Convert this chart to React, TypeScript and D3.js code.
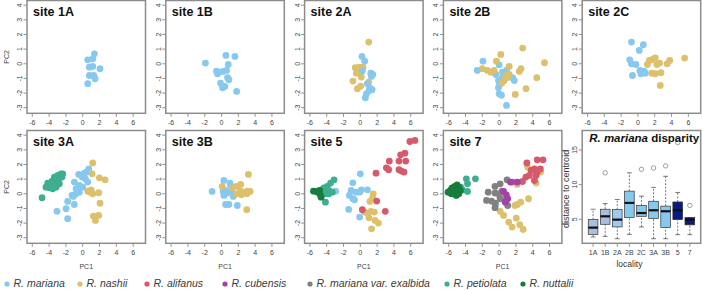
import React, { useEffect, useRef } from "react"
import * as d3 from "d3"

type Pt = [number, number]

const species = [
  "R. mariana",
  "R. nashii",
  "R. alifanus",
  "R. cubensis",
  "R. mariana var. exalbida",
  "R. petiolata",
  "R. nuttalii",
]
const speciesColors = ["#87c8ef", "#dcc06c", "#d6596c", "#a63fa8", "#808080", "#3fae90", "#177d3c"]

// PC1 / PC2 scores, one array per site and species
const s1A_mariana: Pt[] = [[1.39, 0.68], [0.6, 0.27], [1.19, 0.34], [0.79, -0.23], [1.19, -0.18], [2.06, -0.34], [0.79, -0.8], [1.31, -0.8], [1.47, -1.02], [0.6, -1.36]]

const s1B_mariana: Pt[] = [[-1.92, 0.05], [0.52, 0.57], [1.6, 0.5], [0.8, -0.05], [-0.6, -0.5], [-0.32, -0.57], [0.2, -0.52], [0.6, -0.45], [-0.48, -0.68], [0.72, -0.95], [0.88, -1.09], [-0.12, -1.32], [0.4, -1.55], [0.12, -1.64], [1.8, -1.89]]

const s2A_mariana: Pt[] = [[0.2, 0.5], [0.52, 0.18], [1.24, -0.64], [1.48, -0.73], [1.32, -0.86], [0.24, -0.5], [1.12, -1.64], [1.4, -1.77], [1.0, -1.86], [0.72, -2.05], [0.6, -2.32], [0.84, -1.36]]
const s2A_nashii: Pt[] = [[1.0, 1.48], [-0.6, -0.27], [-0.08, -0.23], [0.32, -0.23], [-0.48, -0.64], [-0.08, -0.57], [0.12, -0.91], [-0.88, -1.18], [-0.36, -1.7], [0.04, -1.52], [1.0, -1.25], [-0.28, -0.34]]

const s2B_mariana: Pt[] = [[-1.92, 0.18], [-2.6, -0.45], [0, -0.07], [-0.4, -0.73], [0.4, -0.57], [0.88, -0.45], [-0.08, -1.14], [0, -1.48], [-0.08, -1.64], [0, -2.05], [0.28, -2.14], [0.88, -2.84], [1.6, -0.95], [1.8, -1.14], [0.4, -0.91]]
const s2B_nashii: Pt[] = [[0.2, 0.64], [2.8, 1.07], [-0.32, 0.18], [1.2, -0.18], [-2.0, -0.34], [-1.4, -0.45], [-1.0, -0.57], [-0.6, -0.45], [0.8, -0.8], [1.2, -0.73], [0.6, -1.14], [1.0, -0.95], [2.4, -0.52], [2.6, -0.34], [4.48, -0.95], [5.4, 0.07], [3.2, -1.7], [1.92, -2.09], [0.32, -1.32]]

const s2C_mariana: Pt[] = [[-0.77, 1.48], [0.65, 1.3], [0.16, 0.91], [-0.97, 0.27], [-0.77, 0], [-0.24, -0.05], [0.24, -0.45], [0.44, -0.57], [0.73, -0.5], [0.89, -0.64], [0.36, -0.68], [-0.65, -0.8]]
const s2C_nashii: Pt[] = [[1.37, 0.23], [1.73, 0.3], [2.06, 0.41], [1.13, -0.05], [2.26, -0.05], [2.58, 0.05], [3.47, 0], [3.79, 0.23], [5.56, 0.39], [1.65, -0.64], [2.06, -0.68], [2.74, -0.61], [2.66, -1.48]]

const s3A_mariana: Pt[] = [[-3.06, -1.2], [-1.98, -1.02], [-1.79, -1.7], [-1.0, -0.73], [-1.79, -0.52], [-1.27, -0.11], [-0.79, 0], [-0.6, 0.27], [-0.4, 0.57], [-1.0, 0.8], [-0.48, 1.32], [0.2, 1.41], [0.32, 1.02], [0.6, 0.8], [0.71, 1.7], [-0.4, 0.11], [-0.79, 0.34], [0, 0.45], [0.48, 1.48], [-0.08, 1.14], [-1.11, -0.18]]
const s3A_nashii: Pt[] = [[1.19, 2.11], [1.11, 1.36], [1.98, 1.09], [2.66, 0.95], [0.6, 0.18], [1.0, 0.27], [0.87, 0.11], [1.19, 0], [1.9, 0.07], [2.06, -0.64], [1.9, -1.48], [1.27, -1.52], [1.51, -1.82]]
const s3A_petiolata: Pt[] = [[-4.84, -0.27], [-4.37, 0.45], [-3.97, 0.68], [-3.65, 0.86], [-3.37, 0.57], [-3.1, 0.8], [-2.86, 1.02], [-2.58, 1.36], [-2.46, 1.14], [-3.57, 0.34], [-3.97, 0.41], [-3.17, 0.45], [-2.78, 0.68], [-3.37, 1.14], [-2.98, 1.25], [-3.77, 0.68], [-4.17, 0.73], [-2.38, 1.36]]

const s3B_mariana: Pt[] = [[-1.12, 0.16], [0.28, 0.91], [1.0, 0.73], [1.08, 0.57], [0.2, 0.16], [0.68, 0.05], [1.16, 0.18], [0.48, 0.23], [1.56, 0], [0.28, -0.11], [0.48, -0.73], [0.88, -0.73], [1.88, -0.8], [1.4, -0.18]]
const s3B_nashii: Pt[] = [[3.2, 1.32], [2.28, 0.64], [1.8, 0.5], [1.28, 0.41], [0.08, 0.5], [3.08, 0.18], [3.4, 0.16], [2.68, 0.07], [2.36, -0.07], [3.0, 0], [3.0, -1.09], [1.8, 0], [2.28, 0.18]]

const s5_mariana: Pt[] = [[0, 1.36], [-0.89, 0.75], [-1.1, 0.23], [-0.49, 0.11], [-0.08, 0.11], [0.12, 0.27], [0.85, 0.27], [-1.3, -0.11], [-0.89, -0.34], [-0.69, -0.41], [-0.08, -1.59], [-1.38, -1.07], [-2.93, 0.18]]
const s5_nashii: Pt[] = [[1.54, 0], [1.14, -0.52], [1.46, -0.27], [0.85, -1.32], [1.26, -1.2], [1.67, -1.25], [1.02, -1.64], [1.75, -1.82], [2.15, -2.0], [1.34, -2.39], [0.53, -1.25]]
const s5_alifanus: Pt[] = [[5.9, 3.57], [6.5, 3.64], [4.8, 2.66], [5.3, 2.77], [4.6, 2.23], [5.4, 2.23], [3.45, 2.23], [3.1, 1.77], [3.37, 1.64], [4.6, 1.64], [4.9, 1.55], [5.2, 1.48], [1.87, 1.41], [1.95, -0.5], [0.24, -1.09], [2.97, -1.2]]
const s5_petiolata: Pt[] = [[-3.13, 0.95], [-3.54, 0.73], [-3.94, 0.5], [-4.35, 0.41], [-3.74, 0.23], [-3.33, 0.11], [-3.74, 0], [-4.15, 0], [-4.55, 0.27], [-4.15, -0.57]]
const s5_nuttalii: Pt[] = [[-5.57, 0.18], [-5.16, 0.16], [-4.84, 0.23], [-4.76, -0.07], [-4.67, -0.23], [-5.08, 0.11]]

const s7_mariana: Pt[] = [[-0.37, -0.73], [0.1, -0.2]]
const s7_nashii: Pt[] = [[4.94, 1.48], [3.4, 1.82], [4.4, 0.73], [2.16, 0.64], [3.5, -0.34], [2.57, -0.57], [2.16, -0.73], [1.88, -0.8], [0.12, -1.2], [0.53, -1.48], [1.14, -1.93], [2.04, -1.66], [1.55, -2.27], [2.45, -2.11], [2.86, -2.43]]
const s7_alifanus: Pt[] = [[3.3, 2.11], [4.2, 1.7], [4.53, 2.32], [5.22, 2.32], [3.8, 1.59], [3.6, 1.25], [4.9, 1.7], [4.53, 1.48], [4.4, 1.25], [3.18, 1.14], [2.78, 0.84], [1.55, 0.8], [4.2, 0.91]]
const s7_cubensis: Pt[] = [[1.35, 0.8], [2.16, 0.8], [0.86, -0.07], [1.02, -0.34], [0.73, -0.57], [0.53, 0.16]]
const s7_exalbida: Pt[] = [[-1.3, 0.11], [-1.5, -0.45], [-0.49, 0.5], [0.12, 0.68], [0.94, 0.95], [-0.49, 0.05], [-0.9, -0.5], [-0.49, -0.64], [0.12, -0.34], [-0.08, 0], [-0.49, -0.95], [1.02, -0.8], [0.73, -0.45], [0.33, 0.18]]
const s7_petiolata: Pt[] = [[-3.9, 1.02], [-3.76, 0.68], [-2.82, 1.02], [-3.76, 0.16], [-4.37, 0.27], [-4.57, 0.45]]
const s7_nuttalii: Pt[] = [[-6.08, 0.11], [-5.8, 0.23], [-5.6, 0.41], [-5.27, 0.5], [-5.0, 0.61], [-4.8, 0.45], [-5.4, 0], [-5.1, -0.11], [-4.8, 0], [-4.6, 0.23], [-5.7, 0], [-5.2, 0.27]]

// species index -> points, per site
const sites: { title: string; groups: [number, Pt[]][] }[] = [
  { title: "site 1A", groups: [[0, s1A_mariana]] },
  { title: "site 1B", groups: [[0, s1B_mariana]] },
  { title: "site 2A", groups: [[1, s2A_nashii], [0, s2A_mariana]] },
  { title: "site 2B", groups: [[0, s2B_mariana], [1, s2B_nashii]] },
  { title: "site 2C", groups: [[0, s2C_mariana], [1, s2C_nashii]] },
  { title: "site 3A", groups: [[0, s3A_mariana], [1, s3A_nashii], [5, s3A_petiolata]] },
  { title: "site 3B", groups: [[0, s3B_mariana], [1, s3B_nashii]] },
  { title: "site 5", groups: [[0, s5_mariana], [1, s5_nashii], [2, s5_alifanus], [5, s5_petiolata], [6, s5_nuttalii]] },
  { title: "site 7", groups: [[0, s7_mariana], [1, s7_nashii], [2, s7_alifanus], [4, s7_exalbida], [3, s7_cubensis], [5, s7_petiolata], [6, s7_nuttalii]] },
]

// R. mariana distance to centroid, per locality
const localities = ["1A", "1B", "2A", "2B", "2C", "3A", "3B", "5", "7"]
const whiskerLow = [2.45, 2.54, 2.2, 2.83, 3.9, 2.2, 2.2, 2.78, 2.78]
const q1 = [2.83, 4.28, 3.9, 5.24, 5.43, 5.1, 3.8, 4.95, 4.2]
const medians = [3.8, 5.43, 4.95, 7.36, 5.9, 6.3, 6.16, 6.3, 4.95]
const q3 = [4.95, 6.45, 6.4, 9.06, 7.0, 7.6, 6.9, 7.5, 5.24]
const whiskerHigh = [6.45, 7.27, 7.85, 11.7, 8.33, 9.6, 11.2, 8.87, 5.24]
const outliers = [[], [11.7], [], [], [12.2], [12.4], [12.7], [16.06], [7.0]]
const boxColors = ["#a9bfe0", "#a9bfe0", "#9dcaf0", "#87c8ef", "#87c8ef", "#87c8ef", "#87c8ef", "#0b1a80", "#0b1a80"]

const xTicks = [-6, -4, -2, 0, 2, 4, 6]
const yTicks = [-3, -2, -1, 0, 1, 2, 3, 4]
const distTicks = [5, 10, 15]

const legendX = [7, 80, 147, 225, 310, 447, 523]

const FONT = "'Liberation Sans', Arial, Helvetica, sans-serif"
const PW = 118.5
const PH = 112.8
const lefts = [27, 165.8, 304.6, 443.4, 582.2]
const tops = [0.5, 130.5]

const App = () => {
  const ref = useRef<SVGSVGElement>(null)

  useEffect(() => {
    const svg = d3.select(ref.current)
    svg.selectAll("*").remove()

    sites.forEach((site, i) => {
      const row = Math.floor(i / 5)
      const col = i % 5
      const L = lefts[col]
      const T = tops[row]
      const x = d3.scaleLinear().domain([-6.63, 7.47]).range([L, L + PW])
      const y = d3.scaleLinear().domain([-3.38, 4.32]).range([T + PH, T])
      const g = svg.append("g")

      site.groups.forEach(([sp, pts]) => {
        g.append("g")
          .selectAll("circle")
          .data(pts)
          .enter()
          .append("circle")
          .attr("cx", d => x(d[0]))
          .attr("cy", d => y(d[1]))
          .attr("r", 3.4)
          .attr("fill", speciesColors[sp])
      })

      // axes, R style
      g.selectAll(".xt")
        .data(xTicks)
        .enter()
        .append("line")
        .attr("x1", d => x(d))
        .attr("x2", d => x(d))
        .attr("y1", T + PH)
        .attr("y2", T + PH + 3.5)
        .attr("stroke", "#777")
        .attr("stroke-width", 0.8)
      g.selectAll(".xl")
        .data(xTicks)
        .enter()
        .append("text")
        .attr("x", d => x(d))
        .attr("y", T + PH + 12)
        .attr("text-anchor", "middle")
        .attr("font-size", 7)
        .attr("font-family", FONT)
        .attr("fill", "#444")
        .text(d => d)
      g.selectAll(".yt")
        .data(yTicks)
        .enter()
        .append("line")
        .attr("x1", L)
        .attr("x2", L - 3.5)
        .attr("y1", d => y(d))
        .attr("y2", d => y(d))
        .attr("stroke", "#777")
        .attr("stroke-width", 0.8)
      g.selectAll(".yl")
        .data(yTicks)
        .enter()
        .append("text")
        .attr("transform", d => `translate(${L - 5},${y(d)}) rotate(-90)`)
        .attr("text-anchor", "middle")
        .attr("font-size", 7)
        .attr("font-family", FONT)
        .attr("fill", "#444")
        .text(d => d)

      if (col === 0) {
        g.append("text")
          .attr("transform", `translate(${L - 18},${T + PH / 2}) rotate(-90)`)
          .attr("text-anchor", "middle")
          .attr("font-size", 7)
          .attr("font-family", FONT)
          .attr("fill", "#444")
          .text("PC2")
      }
      if (row === 1) {
        g.append("text")
          .attr("x", L + PW / 2)
          .attr("y", T + PH + 26)
          .attr("text-anchor", "middle")
          .attr("font-size", 7)
          .attr("font-family", FONT)
          .attr("fill", "#444")
          .text("PC1")
      }

      g.append("rect")
        .attr("x", L)
        .attr("y", T)
        .attr("width", PW)
        .attr("height", PH)
        .attr("fill", "none")
        .attr("stroke", "#8c8c8c")
        .attr("stroke-width", 1.5)

      g.append("text")
        .attr("x", L + 6)
        .attr("y", T + 15)
        .attr("font-size", 12.5)
        .attr("font-weight", "bold")
        .attr("font-family", FONT)
        .attr("fill", "#111")
        .text(site.title)
    })

    // boxplot of R. mariana disparity
    const L = lefts[4]
    const T = tops[1]
    const bx = d3.scalePoint().domain(localities).range([L, L + PW]).padding(0.9)
    const by = d3.scaleLinear().domain([1.54, 17.8]).range([T + PH, T])
    const bw = bx.step() * 0.8
    const bp = svg.append("g")

    localities.forEach((loc, i) => {
      const cx = bx(loc) as number
      bp.append("line")
        .attr("x1", cx).attr("x2", cx)
        .attr("y1", by(whiskerLow[i])).attr("y2", by(q1[i]))
        .attr("stroke", "#555").attr("stroke-width", 0.8)
        .attr("stroke-dasharray", "2,1.5")
      bp.append("line")
        .attr("x1", cx).attr("x2", cx)
        .attr("y1", by(q3[i])).attr("y2", by(whiskerHigh[i]))
        .attr("stroke", "#555").attr("stroke-width", 0.8)
        .attr("stroke-dasharray", "2,1.5")
      ;[whiskerLow[i], whiskerHigh[i]].forEach(v => {
        bp.append("line")
          .attr("x1", cx - bw / 4).attr("x2", cx + bw / 4)
          .attr("y1", by(v)).attr("y2", by(v))
          .attr("stroke", "#555").attr("stroke-width", 0.8)
      })
      bp.append("rect")
        .attr("x", cx - bw / 2)
        .attr("y", by(q3[i]))
        .attr("width", bw)
        .attr("height", by(q1[i]) - by(q3[i]))
        .attr("fill", boxColors[i])
        .attr("stroke", "#333")
        .attr("stroke-width", 0.7)
      bp.append("line")
        .attr("x1", cx - bw / 2).attr("x2", cx + bw / 2)
        .attr("y1", by(medians[i])).attr("y2", by(medians[i]))
        .attr("stroke", "#111").attr("stroke-width", 2.2)
      bp.selectAll(null)
        .data(outliers[i])
        .enter()
        .append("circle")
        .attr("cx", cx)
        .attr("cy", d => by(d))
        .attr("r", 2.2)
        .attr("fill", "none")
        .attr("stroke", "#777")
        .attr("stroke-width", 0.7)
    })

    bp.selectAll(".bt")
      .data(localities)
      .enter()
      .append("line")
      .attr("x1", d => bx(d) as number)
      .attr("x2", d => bx(d) as number)
      .attr("y1", T + PH)
      .attr("y2", T + PH + 3.5)
      .attr("stroke", "#777")
      .attr("stroke-width", 0.8)
    bp.selectAll(".bl")
      .data(localities)
      .enter()
      .append("text")
      .attr("x", d => bx(d) as number)
      .attr("y", T + PH + 12)
      .attr("text-anchor", "middle")
      .attr("font-size", 7)
      .attr("font-family", FONT)
      .attr("fill", "#444")
      .text(d => d)
    bp.selectAll(".dt")
      .data(distTicks)
      .enter()
      .append("line")
      .attr("x1", L)
      .attr("x2", L - 3.5)
      .attr("y1", d => by(d))
      .attr("y2", d => by(d))
      .attr("stroke", "#777")
      .attr("stroke-width", 0.8)
    bp.selectAll(".dl")
      .data(distTicks)
      .enter()
      .append("text")
      .attr("transform", d => `translate(${L - 5},${by(d)}) rotate(-90)`)
      .attr("text-anchor", "middle")
      .attr("font-size", 7)
      .attr("font-family", FONT)
      .attr("fill", "#444")
      .text(d => d)
    bp.append("text")
      .attr("transform", `translate(${L - 13.5},${T + PH / 2 + 2}) rotate(-90)`)
      .attr("text-anchor", "middle")
      .attr("font-size", 9)
      .attr("font-family", FONT)
      .attr("fill", "#333")
      .text("distance to centroid")
    bp.append("text")
      .attr("x", L + PW / 2 - 12)
      .attr("y", T + PH + 24)
      .attr("text-anchor", "middle")
      .attr("font-size", 8.5)
      .attr("font-family", FONT)
      .attr("fill", "#333")
      .text("locality")
    bp.append("rect")
      .attr("x", L)
      .attr("y", T)
      .attr("width", PW)
      .attr("height", PH)
      .attr("fill", "none")
      .attr("stroke", "#8c8c8c")
      .attr("stroke-width", 1.5)
    const title = bp.append("text")
      .attr("x", L + 7)
      .attr("y", T + 11)
      .attr("font-size", 11.5)
      .attr("font-weight", "bold")
      .attr("font-family", FONT)
      .attr("fill", "#111")
    title.append("tspan").attr("font-style", "italic").text("R. mariana")
    title.append("tspan").text(" disparity")

    // legend
    const lg = svg.append("g")
    species.forEach((name, i) => {
      lg.append("circle")
        .attr("cx", legendX[i])
        .attr("cy", 284)
        .attr("r", 2.6)
        .attr("fill", speciesColors[i])
      lg.append("text")
        .attr("x", legendX[i] + 6.5)
        .attr("y", 287)
        .attr("font-size", 10.5)
        .attr("font-style", "italic")
        .attr("font-family", FONT)
        .attr("fill", "#3a3a3a")
        .text(name)
    })
  }, [])

  return (
    <svg
      ref={ref}
      width={702}
      height={290}
      style={{ position: "absolute", left: 0, top: 0, background: "#fff" }}
    />
  )
}

export default App
